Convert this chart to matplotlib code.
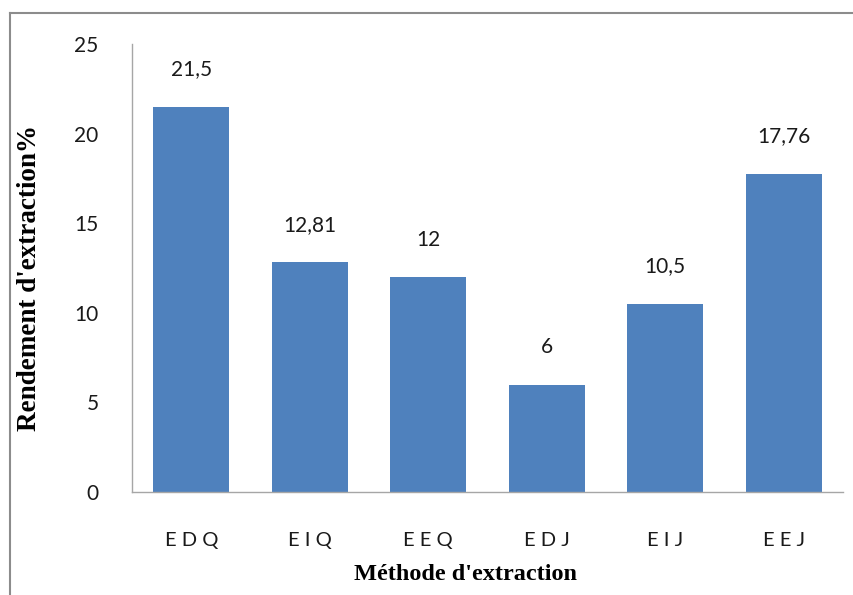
import matplotlib.pyplot as plt
from matplotlib.lines import Line2D

# Rendement d'extraction par méthode
methodes = ["EDQ", "EIQ", "EEQ", "EDJ", "EIJ", "EEJ"]
rendements = [21.5, 12.81, 12, 6, 10.5, 17.76]
etiquettes = ["21,5", "12,81", "12", "6", "10,5", "17,76"]
graduations = [0, 5, 10, 15, 20, 25]

bleu = "#4f81bd"
gris = "#a6a6a6"

fig = plt.figure(figsize=(8.54, 5.95), dpi=100)
ax = fig.add_axes([0.1546, 0.173, 0.8324, 0.753])

x = range(len(methodes))
ax.bar(x, rendements, width=0.64, color=bleu, zorder=2)

for xi, v, lab in zip(x, rendements, etiquettes):
    ax.annotate(lab, (xi, v), xytext=(0, 27), textcoords="offset points",
                ha="center", va="center", fontsize=15, family="Lato",
                color="#1a1a1a")

ax.set_xlim(-0.5, len(methodes) - 0.5)
ax.set_ylim(0, 25)
ax.set_yticks(graduations)
ax.set_yticklabels([str(g) for g in graduations], family="Lato", fontsize=15,
                   color="#1a1a1a")
ax.set_xticks(list(x))
ax.set_xticklabels([" ".join(m) for m in methodes], family="Lato",
                   fontsize=14.5, color="#1a1a1a")
ax.tick_params(axis="y", length=0, pad=24)
ax.tick_params(axis="x", length=0, pad=29)

for s in ["top", "right"]:
    ax.spines[s].set_visible(False)
for s in ["left", "bottom"]:
    ax.spines[s].set_color(gris)
    ax.spines[s].set_linewidth(1.0)

fig.text(466 / 854, 1 - 574 / 595, "Méthode d'extraction", ha="center",
         va="center", family="Liberation Serif", weight="bold", fontsize=17.5)
fig.text(30 / 854, 1 - 278 / 595, "Rendement d'extraction%", ha="center",
         va="center", rotation=90, family="Liberation Serif", weight="bold",
         fontsize=19.5)

# cadre autour du graphique
fig.add_artist(Line2D([10 / 854, 1], [1 - 13 / 595] * 2, color="#8c8c8c",
                      lw=1.5, transform=fig.transFigure))
fig.add_artist(Line2D([10 / 854] * 2, [0, 1 - 13 / 595], color="#8c8c8c",
                      lw=1.5, transform=fig.transFigure))

fig.savefig("out.png", dpi=100)
